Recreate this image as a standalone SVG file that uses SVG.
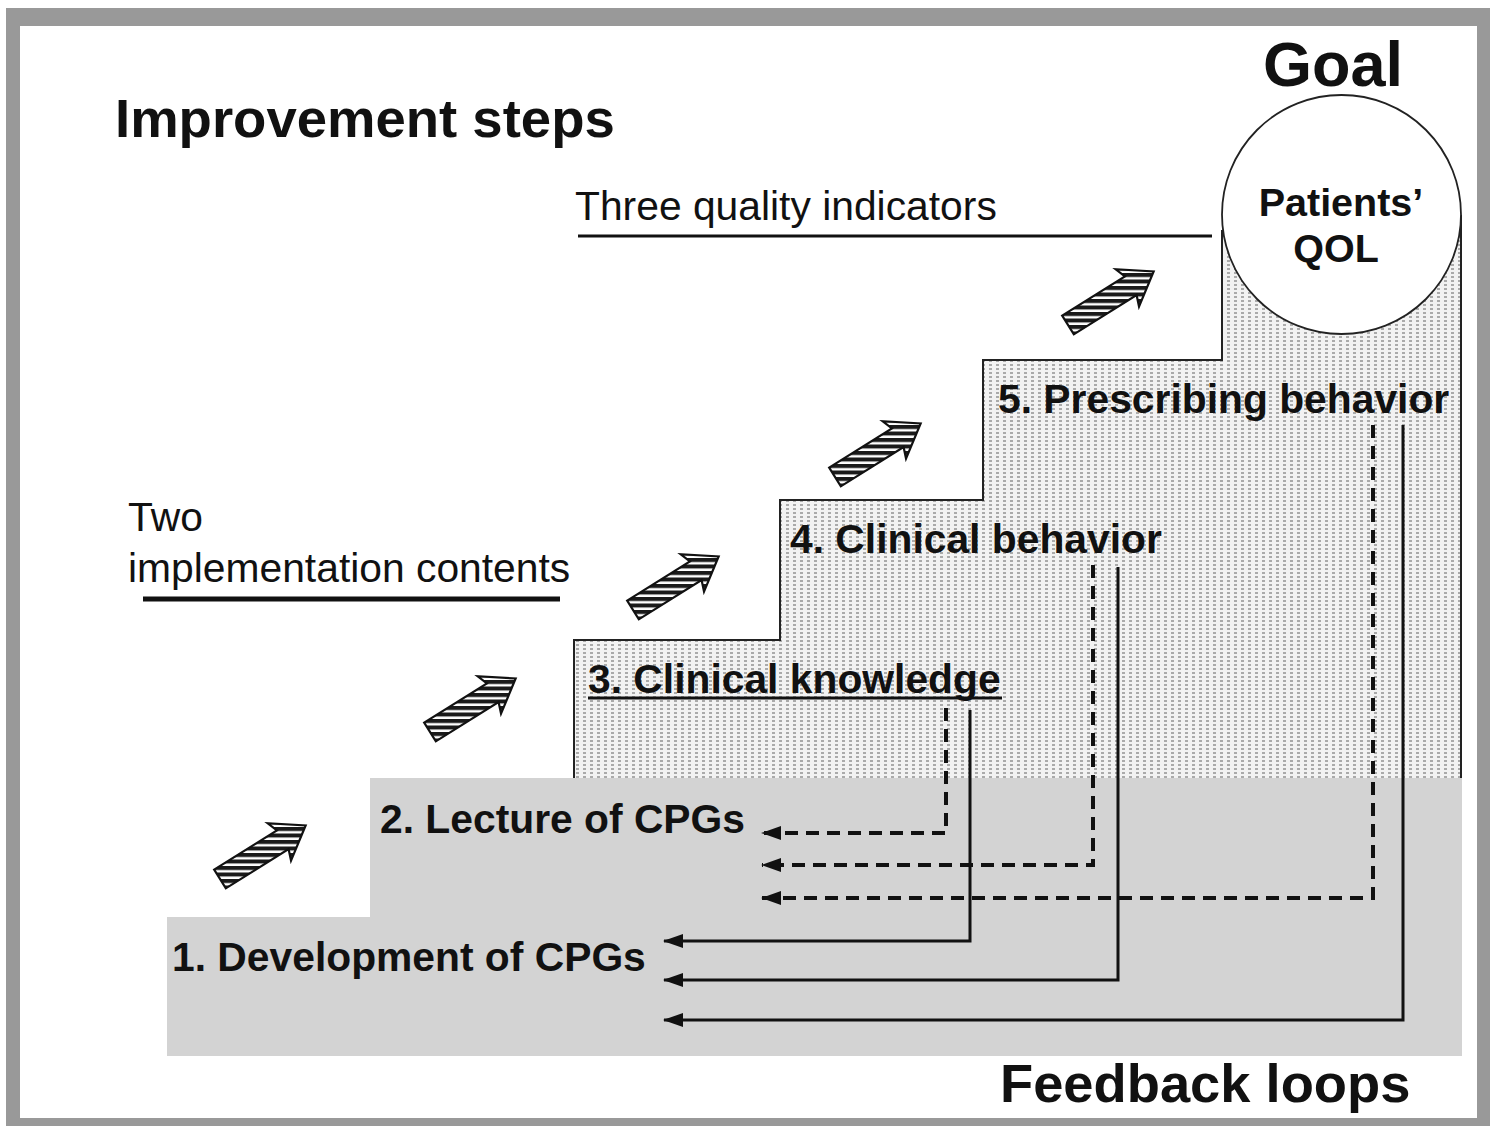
<svg xmlns="http://www.w3.org/2000/svg" width="1497" height="1126" viewBox="0 0 1497 1126">
<style>
.b{font-family:"Liberation Sans",Arial,sans-serif;font-weight:bold;fill:#111}
.r{font-family:"Liberation Sans",Arial,sans-serif;fill:#111}
.step{font-size:40.8px}
.dash{fill:none;stroke:#111;stroke-width:4;stroke-dasharray:13 8}
.solid{fill:none;stroke:#111;stroke-width:3}
.edge{fill:none;stroke:#222;stroke-width:2}
.harrow{fill:url(#hatch);stroke:#111;stroke-width:2.2;stroke-linejoin:miter}
</style>
<defs>
<pattern id="dots" patternUnits="userSpaceOnUse" width="7" height="4">
<rect width="7" height="4" fill="#f2f2f2"/>
<rect x="2" y="0" width="3" height="2" fill="#aaaaaa"/>
</pattern>
<pattern id="hatch" patternUnits="userSpaceOnUse" width="6.5" height="6.5" patternTransform="rotate(32)">
<rect width="6.5" height="6.5" fill="#fff"/>
<rect width="6.5" height="4" fill="#1a1a1a"/>
</pattern>
<marker id="ah" viewBox="0 0 20 14" refX="19" refY="7" markerWidth="20" markerHeight="14" markerUnits="userSpaceOnUse" orient="auto">
<path d="M0,0 L20,7 L0,14 Z" fill="#111"/>
</marker>
<path id="hat" d="M0,-11 H74 L70,-22 L101,0 L70,22 L74,11 H0 Z"/>
</defs>
<rect x="0" y="0" width="1497" height="1126" fill="#fff"/>
<rect x="6" y="8" width="1484" height="1118" fill="#999"/>
<rect x="20" y="26" width="1457" height="1092" fill="#fff"/>

<g id="dotted-steps">
<path d="M574,778 V640 H780 V500 H983 V360 H1222 V215 H1462 V778 Z" fill="url(#dots)"/>
<path class="edge" d="M574,778 V640 H780 V500 H983 V360 H1222 V230"/>
<path class="edge" d="M1461,215 V778"/>
</g>
<g id="gray-steps">
<path d="M167,1056 V917 H370 V778 H1462 V1056 Z" fill="#d3d3d3"/>
</g>

<g id="goal">
<circle cx="1341.5" cy="214.5" r="119.5" fill="#fff" stroke="#222" stroke-width="1.8"/>
<text class="b" x="1341" y="216" font-size="39.5" text-anchor="middle">Patients’</text>
<text class="b" x="1336" y="262" font-size="39.5" text-anchor="middle">QOL</text>
<text class="b" x="1333" y="86" font-size="63" text-anchor="middle">Goal</text>
</g>

<g id="title"><text class="b" x="115" y="137" font-size="54.5">Improvement steps</text></g>
<g id="feedback-title"><text class="b" x="1000" y="1102" font-size="54.3">Feedback loops</text></g>

<g id="quality-indicators">
<text class="r" x="575" y="220" font-size="40.8">Three quality indicators</text>
<line x1="578" y1="236" x2="1212" y2="236" stroke="#111" stroke-width="3"/>
</g>
<g id="implementation-contents">
<text class="r" x="128" y="531" font-size="40.8">Two</text>
<text class="r" x="128" y="582" font-size="40.8">implementation contents</text>
<line x1="143" y1="599" x2="560" y2="599" stroke="#111" stroke-width="5"/>
</g>

<g id="step1"><text class="b step" x="172" y="971">1. Development of CPGs</text></g>
<g id="step2"><text class="b step" x="380" y="833">2. Lecture of CPGs</text></g>
<g id="step3"><text class="b step" x="588" y="693">3. Clinical knowledge</text>
<line x1="588" y1="698" x2="1002" y2="698" stroke="#111" stroke-width="3"/></g>
<g id="step4"><text class="b step" x="790" y="553">4. Clinical behavior</text></g>
<g id="step5"><text class="b step" x="998" y="413">5. Prescribing behavior</text></g>

<g id="step-arrows">
<use href="#hat" class="harrow" transform="translate(220,879) rotate(-32)"/>
<use href="#hat" class="harrow" transform="translate(430,732) rotate(-32)"/>
<use href="#hat" class="harrow" transform="translate(633,610) rotate(-32)"/>
<use href="#hat" class="harrow" transform="translate(835,477) rotate(-32)"/>
<use href="#hat" class="harrow" transform="translate(1068,325) rotate(-32)"/>
</g>

<g id="connectors">
<path class="dash" d="M946,708 V833 H762" marker-end="url(#ah)"/>
<path class="dash" d="M1093,565 V865 H762" marker-end="url(#ah)"/>
<path class="dash" d="M1373,425 V898 H762" marker-end="url(#ah)"/>
<path class="solid" d="M970,710 V941 H664" marker-end="url(#ah)"/>
<path class="solid" d="M1118,567 V980 H664" marker-end="url(#ah)"/>
<path class="solid" d="M1403,425 V1020 H664" marker-end="url(#ah)"/>
</g>
</svg>
